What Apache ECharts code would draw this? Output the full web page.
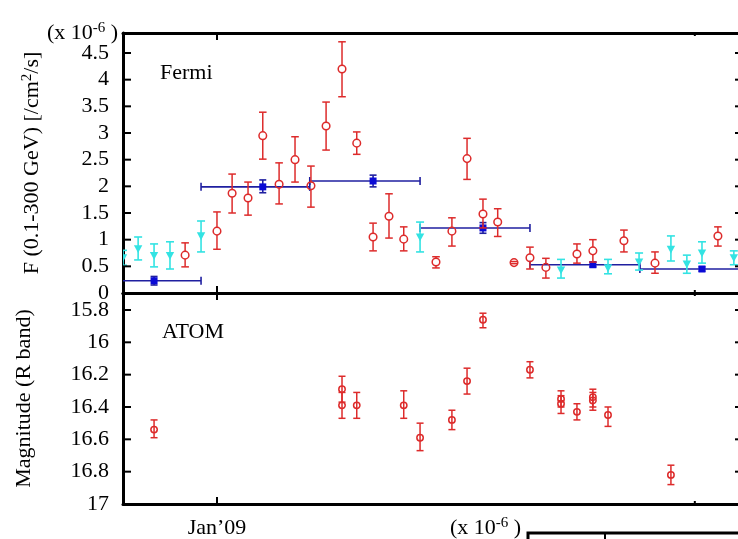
<!DOCTYPE html>
<html>
<head>
<meta charset="utf-8">
<script src="https://cdn.jsdelivr.net/npm/echarts@6/dist/echarts.min.js"></script>
<style>
  html, body { margin: 0; padding: 0; overflow: hidden; background: #fff; }
  #chart { width: 760px; height: 539px; }
</style>
</head>
<body>
<div id="chart"></div>
<script>
// Time axis: Modified Julian Date (2009 Jan 1 = MJD 54832)
const xTickValues = [54832];
const xTickLabels = ["Jan\u201909"];
const xMinorTicks = [54952];

// Fermi-LAT flux, F(0.1-300 GeV) in units of 1e-6 ph/cm^2/s
// short-bin detections (open circles)
const redT  = [54824.0, 54832.0, 54835.8, 54839.8, 54843.5, 54847.6, 54851.6, 54855.6, 54859.4, 54863.4, 54867.1, 54871.2, 54875.2, 54878.9, 54887.0, 54891.0, 54894.8, 54898.8, 54902.5, 54906.6, 54910.6, 54914.6, 54922.4, 54926.4, 54934.2, 54942.0, 54957.8];
const redF  = [0.71, 1.16, 1.87, 1.78, 2.95, 2.04, 2.50, 2.01, 3.13, 4.20, 2.81, 1.05, 1.44, 1.01, 0.58, 1.16, 2.52, 1.48, 1.33, 0.57, 0.66, 0.48, 0.73, 0.79, 0.98, 0.56, 1.07];
const redLo = [0.49, 0.82, 1.50, 1.46, 2.51, 1.67, 2.08, 1.61, 2.68, 3.68, 2.60, 0.79, 1.03, 0.79, 0.47, 0.88, 2.13, 1.22, 1.06, 0.55, 0.45, 0.28, 0.56, 0.58, 0.77, 0.37, 0.88];
const redHi = [0.94, 1.52, 2.23, 2.08, 3.39, 2.44, 2.93, 2.38, 3.58, 4.71, 3.02, 1.31, 1.86, 1.24, 0.68, 1.41, 2.90, 1.76, 1.58, 0.59, 0.86, 0.65, 0.92, 1.00, 1.18, 0.77, 1.24];

// short-bin low-significance points (down triangles)
const cyanT  = [54808.4, 54812.2, 54816.2, 54820.2, 54828.0, 54883.0, 54918.4, 54930.2, 54938.0, 54946.0, 54950.0, 54953.8, 54961.8];
const cyanF  = [0.66, 0.83, 0.70, 0.70, 1.07, 1.05, 0.43, 0.47, 0.58, 0.82, 0.54, 0.75, 0.66];
const cyanLo = [0.52, 0.62, 0.49, 0.45, 0.77, 0.77, 0.28, 0.36, 0.43, 0.60, 0.37, 0.56, 0.53];
const cyanHi = [0.80, 1.05, 0.92, 0.96, 1.35, 1.33, 0.63, 0.63, 0.75, 1.07, 0.71, 0.96, 0.79];

// long-bin fluxes (filled squares with bin width)
const blueT     = [54816.2, 54843.5, 54871.2, 54898.8, 54926.4, 54953.8];
const blueF     = [0.23, 1.99, 2.10, 1.22, 0.53, 0.45];
const blueLo    = [0.15, 1.88, 1.99, 1.12, 0.49, 0.41];
const blueHi    = [0.31, 2.12, 2.21, 1.32, 0.58, 0.49];
const blueStart = [54800.4, 54828.0, 54855.3, 54883.0, 54910.6, 54938.2];
const blueEnd   = [54828.0, 54855.3, 54883.0, 54910.6, 54938.2, 54965.8];

// ATOM optical photometry, R-band magnitude
const atomT  = [54816.2, 54863.4, 54863.4, 54867.1, 54878.9, 54883.0, 54891.0, 54894.8, 54898.8, 54910.6, 54918.4, 54918.4, 54922.4, 54926.4, 54926.4, 54930.2, 54946.0];
const atomM  = [16.54, 16.29, 16.39, 16.39, 16.39, 16.59, 16.48, 16.24, 15.86, 16.17, 16.35, 16.38, 16.43, 16.34, 16.36, 16.45, 16.82];
const atomLo = [16.48, 16.21, 16.31, 16.31, 16.30, 16.50, 16.42, 16.16, 15.82, 16.12, 16.30, 16.33, 16.38, 16.29, 16.31, 16.40, 16.76];
const atomHi = [16.59, 16.37, 16.47, 16.47, 16.47, 16.67, 16.54, 16.32, 15.91, 16.22, 16.40, 16.44, 16.48, 16.40, 16.42, 16.52, 16.88];

// Tick values for the y axes
const fluxTicks = [0, 0.5, 1, 1.5, 2, 2.5, 3, 3.5, 4, 4.5];
const magTicks  = [15.8, 16, 16.2, 16.4, 16.6, 16.8, 17];

const FONT = 'Liberation Serif';
const FS = 22;
const RED = '#dd2b2b';
const CYAN = '#33e3e3';
const BLUE = '#0a0ad6';
const NAVY = '#1f1fa0';

const X_MIN = 54808.4, X_MAX = 54964.1;
const FLUX_MIN = 0, FLUX_MAX = 4.875;
const MAG_MIN = 15.695, MAG_MAX = 17;

function xAxisDef(gridIndex, position, labels) {
  return {
    type: 'value', gridIndex: gridIndex, position: position,
    min: X_MIN, max: X_MAX,
    axisLine: { show: true, onZero: false, lineStyle: { color: '#000', width: 3 } },
    splitLine: { show: false },
    axisTick: { show: false },
    axisLabel: labels ? {
      show: true, customValues: xTickValues.slice(), margin: 13,
      fontFamily: FONT, fontSize: FS, color: '#000',
      formatter: function (v) { const i = xTickValues.indexOf(v); return i >= 0 ? labels[i] : ''; }
    } : { show: false }
  };
}

function yAxisDef(gridIndex, position, opts, ticks, withLabels) {
  return Object.assign({
    type: 'value', gridIndex: gridIndex, position: position,
    axisLine: { show: true, onZero: false, lineStyle: { color: '#000', width: 3 } },
    splitLine: { show: false },
    axisTick: { show: false },
    axisLabel: withLabels ? {
      show: true, customValues: ticks.slice(), margin: 14,
      fontFamily: FONT, fontSize: FS, color: '#000',
      formatter: function (v) { return String(+v.toFixed(2)); }
    } : { show: false }
  }, opts);
}

function seg(x1, y1, x2, y2, style) {
  return { type: 'line', shape: { x1: x1, y1: y1, x2: x2, y2: y2 }, style: style };
}

function bar(x, y, w, h) {
  return { type: 'rect', shape: { x: x, y: y, width: w, height: h }, style: { fill: '#000' } };
}

// all inward frame ticks of one panel; the panel rectangle comes from
// params.coordSys and tick positions from the axis scales
function frameTickSeries(xi, yi, yTicks) {
  return {
    type: 'custom', coordinateSystem: 'cartesian2d', xAxisIndex: xi, yAxisIndex: yi,
    clip: false, silent: true, z: 10,
    data: [[xTickValues[0], yTicks[1]]], encode: { x: 0, y: 1 },
    renderItem: function (params, api) {
      const cs = params.coordSys;
      const left = cs.x, right = cs.x + cs.width;
      const top = cs.y, bottom = cs.y + cs.height;
      const midV = yTicks[1];
      const kids = [];
      const addX = function (t, len) {
        const px = api.coord([t, midV])[0];
        kids.push(bar(px - 1, top, 2, len));
        kids.push(bar(px - 1, bottom - len, 2, len));
      };
      xTickValues.forEach(function (t) { addX(t, 7); });
      xMinorTicks.forEach(function (t) { addX(t, 3); });
      yTicks.forEach(function (v) {
        const py = api.coord([xTickValues[0], v])[1];
        kids.push(bar(left, py - 1, 8, 2));
        kids.push(bar(right - 8, py - 1, 8, 2));
      });
      return { type: 'group', children: kids };
    }
  };
}

// vertical error bar with caps; 'gap' leaves room for a hollow marker
function vErr(api, x, y, lo, hi, cap, gap, style) {
  const p = api.coord([x, y]);
  const a = api.coord([x, lo]);
  const b = api.coord([x, hi]);
  const top = Math.min(a[1], b[1]), bot = Math.max(a[1], b[1]);
  const out = [];
  if (gap > 0) {
    if (top < p[1] - gap) out.push(seg(p[0], top, p[0], p[1] - gap, style));
    if (bot > p[1] + gap) out.push(seg(p[0], p[1] + gap, p[0], bot, style));
  } else {
    out.push(seg(p[0], top, p[0], bot, style));
  }
  out.push(seg(p[0] - cap, top, p[0] + cap, top, style));
  out.push(seg(p[0] - cap, bot, p[0] + cap, bot, style));
  return { p: p, items: out };
}

function circleSeries(name, xi, yi, data, color, r, cap, gap) {
  return {
    name: name, type: 'custom', coordinateSystem: 'cartesian2d',
    xAxisIndex: xi, yAxisIndex: yi, clip: true, z: 4,
    data: data,
    encode: { x: 0, y: 1 },
    renderItem: function (params, api) {
      const style = { stroke: color, lineWidth: 1.5, fill: null };
      const e = vErr(api, api.value(0), api.value(1), api.value(2), api.value(3), cap, gap, style);
      e.items.push({ type: 'circle', shape: { cx: e.p[0], cy: e.p[1], r: r },
                     style: { stroke: color, lineWidth: 1.5, fill: null } });
      return { type: 'group', children: e.items };
    }
  };
}

const redData  = redT.map((t, i) => [t, redF[i], redLo[i], redHi[i]]);
const cyanData = cyanT.map((t, i) => [t, cyanF[i], cyanLo[i], cyanHi[i]]);
const blueData = blueT.map((t, i) => [t, blueF[i], blueLo[i], blueHi[i], blueStart[i], blueEnd[i]]);
const atomData = atomT.map((t, i) => [t, atomM[i], atomLo[i], atomHi[i]]);

const supStyle = { fontSize: 15, fontFamily: FONT, fill: '#000', color: '#000', verticalAlign: 'top', padding: [0, 0, 9, 0] };

const chart = echarts.init(document.getElementById('chart'), null, { renderer: 'canvas' });

chart.setOption({
  animation: false,
  backgroundColor: '#fff',
  grid: [
    { left: 123, top: 33, right: 17, height: 260, show: false },
    { left: 123, top: 293, right: 17, height: 215, show: false }
  ],
  xAxis: [
    xAxisDef(0, 'bottom', null),
    xAxisDef(0, 'top', null),
    xAxisDef(1, 'bottom', xTickLabels),
    xAxisDef(1, 'top', null)
  ],
  yAxis: [
    yAxisDef(0, 'left', {
      min: FLUX_MIN, max: FLUX_MAX,
      name: 'F (0.1-300 GeV) [/cm{s|2}/s]',
      nameLocation: 'middle', nameRotate: 90, nameGap: 79,
      nameTextStyle: { fontFamily: FONT, fontSize: FS, color: '#000', rich: { s: supStyle } }
    }, fluxTicks, true),
    yAxisDef(0, 'right', { min: FLUX_MIN, max: FLUX_MAX }, fluxTicks, false),
    yAxisDef(1, 'left', {
      min: MAG_MIN, max: MAG_MAX, inverse: true,
      name: 'Magnitude (R band)',
      nameLocation: 'middle', nameRotate: 90, nameGap: 88,
      nameTextStyle: { fontFamily: FONT, fontSize: FS, color: '#000' }
    }, magTicks, true),
    yAxisDef(1, 'right', { min: MAG_MIN, max: MAG_MAX, inverse: true }, magTicks, false)
  ],
  series: [
    {
      name: 'Fermi long bins', type: 'custom', coordinateSystem: 'cartesian2d',
      xAxisIndex: 0, yAxisIndex: 0, clip: true, z: 2,
      data: blueData, encode: { x: 0, y: 1 },
      renderItem: function (params, api) {
        const p = api.coord([api.value(0), api.value(1)]);
        const s = api.coord([api.value(4), api.value(1)]);
        const e = api.coord([api.value(5), api.value(1)]);
        const lo = api.coord([api.value(0), api.value(2)]);
        const hi = api.coord([api.value(0), api.value(3)]);
        const ls = { stroke: NAVY, lineWidth: 1.6 };
        return { type: 'group', children: [
          seg(s[0], s[1], e[0], e[1], ls),
          seg(s[0], s[1] - 4, s[0], s[1] + 4, ls),
          seg(e[0], e[1] - 4, e[0], e[1] + 4, ls),
          seg(p[0], hi[1], p[0], lo[1], ls),
          seg(p[0] - 3.5, hi[1], p[0] + 3.5, hi[1], ls),
          seg(p[0] - 3.5, lo[1], p[0] + 3.5, lo[1], ls),
          { type: 'rect', shape: { x: p[0] - 3.5, y: p[1] - 3.5, width: 7, height: 7 }, style: { fill: BLUE } }
        ] };
      }
    },
    {
      name: 'Fermi short bins (low TS)', type: 'custom', coordinateSystem: 'cartesian2d',
      xAxisIndex: 0, yAxisIndex: 0, clip: true, z: 3,
      data: cyanData, encode: { x: 0, y: 1 },
      renderItem: function (params, api) {
        const style = { stroke: CYAN, lineWidth: 1.6 };
        const e = vErr(api, api.value(0), api.value(1), api.value(2), api.value(3), 4, 0, style);
        const p = e.p;
        e.items.push({ type: 'polygon', shape: { points: [[p[0] - 4.2, p[1] - 3.6], [p[0] + 4.2, p[1] - 3.6], [p[0], p[1] + 4.2]] },
                       style: { fill: CYAN } });
        return { type: 'group', children: e.items };
      }
    },
    circleSeries('Fermi short bins', 0, 0, redData, RED, 3.8, 3.8, 3.8),
    circleSeries('ATOM R band', 2, 2, atomData, RED, 3.2, 3.5, 0),
    // frame ticks of both panels
    frameTickSeries(0, 0, fluxTicks),
    frameTickSeries(2, 2, magTicks)
  ],
  graphic: [
    { type: 'text', left: 160, top: 62, style: { text: 'Fermi', font: FS + 'px "' + FONT + '"', fill: '#000' } },
    { type: 'text', left: 162, top: 321, style: { text: 'ATOM', font: FS + 'px "' + FONT + '"', fill: '#000' } },
    { type: 'text', left: 47, top: 21, style: {
        text: '(x 10{s|-6} )', font: FS + 'px "' + FONT + '"', fill: '#000', rich: { s: supStyle } } },
    // corner of the next panel below
    { type: 'text', left: 450, top: 516, style: {
        text: '(x 10{s|-6} )', font: FS + 'px "' + FONT + '"', fill: '#000', rich: { s: supStyle } } },
    { type: 'rect', shape: { x: 528, y: 533, width: 300, height: 120 }, style: { fill: 'none', stroke: '#000', lineWidth: 3 } },
    { type: 'line', shape: { x1: 605, y1: 533, x2: 605, y2: 541 }, style: { stroke: '#000', lineWidth: 2 } }
  ]
});
</script>
</body>
</html>
